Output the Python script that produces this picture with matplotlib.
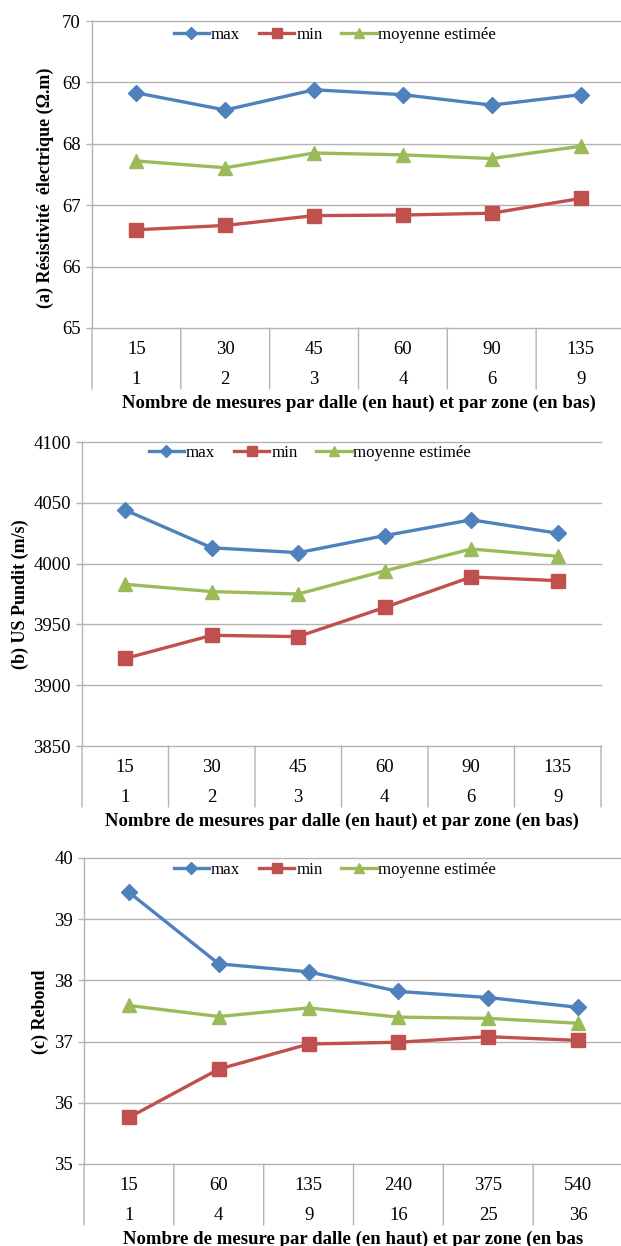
import matplotlib

matplotlib.use("Agg")
import matplotlib.pyplot as plt
from matplotlib.transforms import offset_copy

W, H, DPI = 621, 1246, 100

# panel (a) - résistivité
a_top = ["15", "30", "45", "60", "90", "135"]
a_bot = ["1", "2", "3", "4", "6", "9"]
a_max = [68.83, 68.55, 68.88, 68.80, 68.63, 68.80]
a_min = [66.60, 66.67, 66.83, 66.84, 66.87, 67.11]
a_moy = [67.72, 67.61, 67.85, 67.82, 67.76, 67.96]

# panel (b) - US Pundit
b_top = ["15", "30", "45", "60", "90", "135"]
b_bot = ["1", "2", "3", "4", "6", "9"]
b_max = [4044, 4013, 4009, 4023, 4036, 4025]
b_min = [3922, 3941, 3940, 3964, 3989, 3986]
b_moy = [3983, 3977, 3975, 3994, 4012, 4006]

# panel (c) - rebond
c_top = ["15", "60", "135", "240", "375", "540"]
c_bot = ["1", "4", "9", "16", "25", "36"]
c_max = [39.44, 38.27, 38.14, 37.82, 37.72, 37.56]
c_min = [35.76, 36.55, 36.96, 36.99, 37.08, 37.02]
c_moy = [37.59, 37.41, 37.55, 37.40, 37.38, 37.30]

BLUE, RED, GREEN = "#4F81BD", "#C0504D", "#9BBB59"
GRAY = "#B3B3B3"
SERIF = ["Liberation Serif", "DejaVu Serif"]
FS = 13.5

plt.rcParams["font.family"] = SERIF

fig = plt.figure(figsize=(W / DPI, H / DPI), dpi=DPI)


def px(x):
    return x * 72.0 / DPI  # pixels -> points


def panel(box, ylim, yticks, top, bot, smax, smin, smoy, ylabel, ylab_xy, xlabel, leg_xy):
    left, top_px, right, bottom = box
    ax = fig.add_axes([left / W, 1 - bottom / H, (right - left) / W, (bottom - top_px) / H])
    n = len(top)
    xs = list(range(n))
    ax.set_xlim(-0.5, n - 0.5)
    ax.set_ylim(*ylim)
    ax.set_yticks(yticks)
    ax.set_xticks([])
    for s in ["top", "right", "bottom"]:
        ax.spines[s].set_visible(False)
    ax.spines["left"].set_color(GRAY)
    ax.spines["left"].set_linewidth(1.0)
    ax.tick_params(axis="y", length=4, width=1.0, color=GRAY, pad=4, labelsize=FS)
    ax.yaxis.grid(True, color=GRAY, linewidth=1.0)
    for gl in ax.get_ygridlines():
        gl.set_clip_on(False)
    ax.set_axisbelow(True)

    ax.plot(xs, smax, color=BLUE, lw=2.4, marker="D", ms=8.5, label="max", clip_on=False)
    ax.plot(xs, smin, color=RED, lw=2.4, marker="s", ms=9.5, label="min", clip_on=False)
    ax.plot(xs, smoy, color=GREEN, lw=2.4, marker="^", ms=10.5, label="moyenne estimée", clip_on=False)

    tr = ax.get_xaxis_transform()
    for i in xs:
        ax.text(i, 0, top[i], transform=offset_copy(tr, fig=fig, y=-px(21), units="points"),
                ha="center", va="center", fontsize=FS)
        ax.text(i, 0, bot[i], transform=offset_copy(tr, fig=fig, y=-px(51), units="points"),
                ha="center", va="center", fontsize=FS)
    sep_tr = offset_copy(tr, fig=fig, y=-px(61), units="points")
    for k in range(n + 1):
        x = k - 0.5
        ax.annotate("", xy=(x, 0), xycoords=tr, xytext=(x, 0), textcoords=sep_tr,
                    arrowprops=dict(arrowstyle="-", color=GRAY, lw=1.0, shrinkA=0, shrinkB=0))
    ax.text(0.5, 0, xlabel, transform=offset_copy(ax.transAxes, fig=fig, y=-px(75), units="points"),
            ha="center", va="center", fontsize=FS, fontweight="bold")

    fig.text(ylab_xy[0] / W, 1 - ylab_xy[1] / H, ylabel, rotation=90, ha="center", va="center",
             fontsize=13, fontweight="bold")

    fig.legend(handles=ax.get_lines()[:3], loc="center", bbox_to_anchor=(leg_xy[0] / W, 1 - leg_xy[1] / H),
               ncol=3, frameon=False, fontsize=12.2, handlelength=2.1, handletextpad=0.1,
               columnspacing=1.1, markerscale=0.72, borderpad=0, borderaxespad=0)
    return ax


xlab = "Nombre de mesures par dalle (en haut) et par zone (en bas)"

panel((92, 21, 625, 328), (65, 70), [65, 66, 67, 68, 69, 70], a_top, a_bot, a_max, a_min, a_moy,
      "(a) Résistivité  électrique (Ω.m)", (45, 188), xlab, (335, 35))
panel((82, 442, 601, 746), (3850, 4100), [3850, 3900, 3950, 4000, 4050, 4100], b_top, b_bot,
      b_max, b_min, b_moy, "(b) US Pundit (m/s)", (20, 594), xlab, (310, 453))
panel((84, 858, 623, 1164), (35, 40), [35, 36, 37, 38, 39, 40], c_top, c_bot, c_max, c_min, c_moy,
      "(c) Rebond", (40, 1012), "Nombre de mesure par dalle (en haut) et par zone (en bas", (335, 870))

fig.savefig("out.png", dpi=DPI)
